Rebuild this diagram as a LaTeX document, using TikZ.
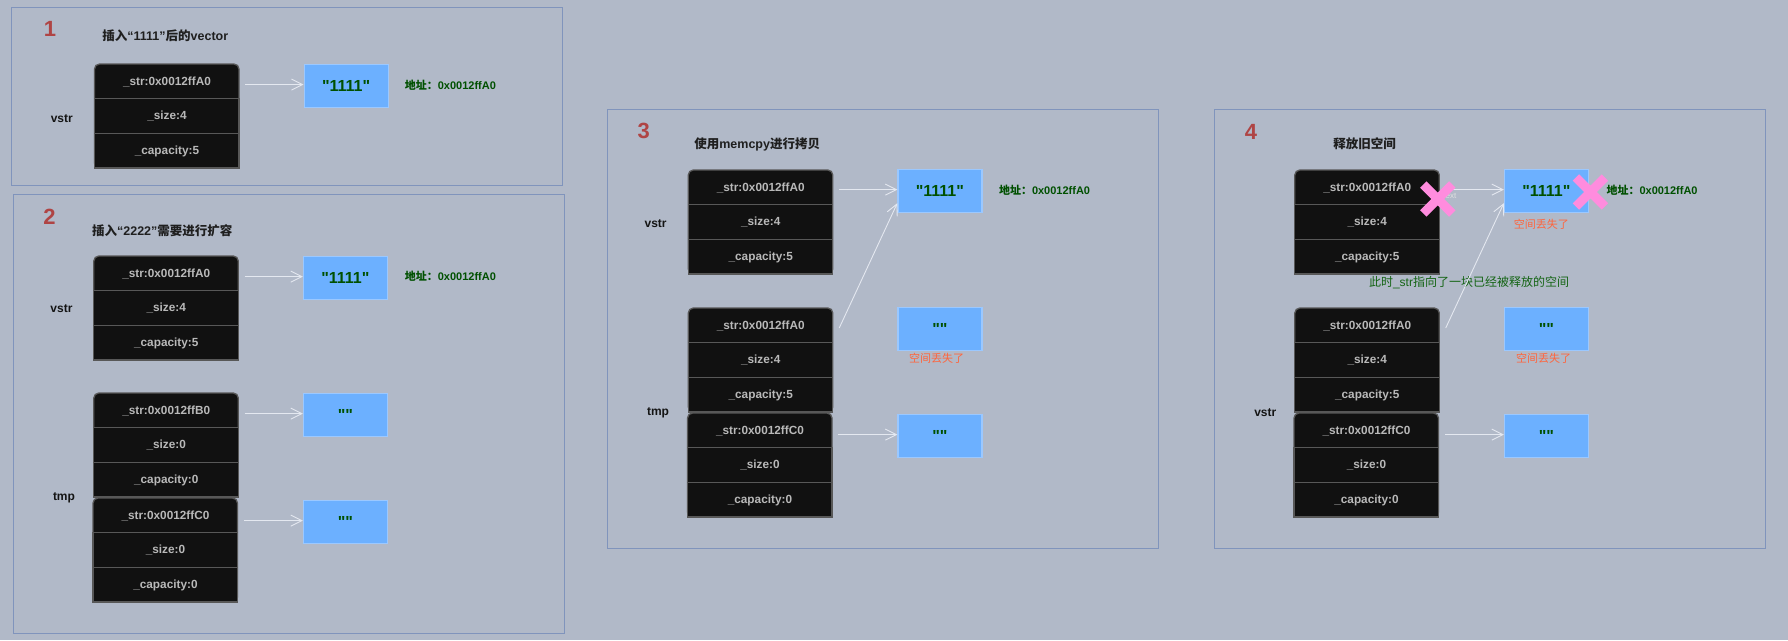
\documentclass[tikz,border=0pt]{standalone}
\usepackage{fontspec}
\setmainfont{Liberation Sans}
\newfontfamily\cjk{Noto Sans CJK SC}
\usetikzlibrary{arrows.meta}
\definecolor{bg}{RGB}{177,185,200}
\definecolor{framecol}{RGB}{128,148,188}
\definecolor{cellfill}{RGB}{17,17,17}
\definecolor{cellline}{RGB}{88,88,88}
\definecolor{celltext}{RGB}{185,185,185}
\definecolor{boxfill}{RGB}{108,176,255}
\definecolor{boxline}{RGB}{155,200,255}
\definecolor{dgreen}{RGB}{0,80,0}
\definecolor{numred}{RGB}{175,68,68}
\definecolor{lostcol}{RGB}{255,100,60}
\definecolor{notegreen}{RGB}{20,100,20}
\definecolor{arrowcol}{RGB}{228,232,240}
\definecolor{xpink}{RGB}{255,140,222}
\newcommand\zh[1]{{\cjk #1}}
\newcommand\dq{\XeTeXglyph\XeTeXcharglyph"22\relax}
\newcommand\memstruct[6]{%
  \draw[cellshape, rounded corners=5pt] (#2,#3) rectangle ++(144.5,104.1);
  \draw[cellshape] (#2,{#3+34.7}) rectangle ++(144.5,69.4);
  \draw[cellshape] (#2,{#3+69.4}) -- ++(144.5,0);
  \node[cell] (#1-1) at (#2,#3) {#4};
  \node[cell] (#1-2) at (#2,{#3+34.7}) {#5};
  \node[cell] (#1-3) at (#2,{#3+69.4}) {#6};
}
\tikzset{
  cellshape/.style={draw=cellline, fill=cellfill, line width=1.3pt},
  cell/.style={anchor=north west, minimum width=144.5pt, minimum height=34.7pt, inner sep=0pt,
    text=celltext, font=\bfseries\fontsize{11.8}{14}\selectfont},
  membox/.style={anchor=north west, draw=boxline, fill=boxfill, line width=1.2pt,
    minimum width=84pt, minimum height=43pt, inner sep=0pt, text=dgreen,
    font=\bfseries\fontsize{16}{16}\selectfont},
  ptr/.style={draw=arrowcol, line width=0.9pt, -{Straight Barb[length=11pt,width=11pt]}},
  frame/.style={draw=framecol, line width=1pt},
  stepnum/.style={text=numred, font=\bfseries\fontsize{22}{22}\selectfont, inner sep=0pt},
  title/.style={text=black!88, font=\bfseries\fontsize{12.5}{14}\selectfont, inner sep=0pt},
  varlabel/.style={text=black!92, font=\bfseries\fontsize{12}{14}\selectfont, inner sep=0pt},
  addr/.style={anchor=west, text=dgreen, font=\bfseries\fontsize{11}{13}\selectfont, inner sep=0pt},
  lost/.style={text=lostcol, font=\fontsize{11}{13}\selectfont, inner sep=0pt},
  note/.style={text=notegreen, font=\fontsize{12}{14}\selectfont, inner sep=0pt},
  xmark/.style={draw=xpink, line width=9pt},
}
\begin{document}
\begin{tikzpicture}[x=1pt,y=-1pt]
\useasboundingbox (0,0) rectangle (1788,640);
\fill[bg] (0,0) rectangle (1788,640);

% ---------- frames
\draw[frame] (11.6,7.3) rectangle (562.7,185);
\draw[frame] (13.4,194) rectangle (564.5,633);
\draw[frame] (607.3,109) rectangle (1158.7,548);
\draw[frame] (1214.4,109) rectangle (1765.5,548);

% ---------- panel 1
\node[stepnum] (n1) at (50,29) {1};
\node[title] (t1) at (165.3,36) {\zh{插入}“1111”\zh{后的}vector};
\memstruct{sa}{94.5}{64}{\_str:0x0012ffA0}{\_size:4}{\_capacity:5}
\node[varlabel] (la) at (61.8,119) {vstr};
\node[membox] (ba) at (303.5,64) {\dq1111\dq};
\node[addr] (aa) at (404.6,85) {\zh{地址：}0x0012ffA0};
\coordinate (ea) at ([yshift=1.5pt]ba.west);
\draw[ptr] ([xshift=6pt]sa-1.east |- ea) -- (ea);

% ---------- panel 2
\node[stepnum] (n2) at (49.5,217) {2};
\node[title] (t2) at (162.3,231) {\zh{插入}“2222”\zh{需要进行扩容}};
\memstruct{sb}{93.8}{256}{\_str:0x0012ffA0}{\_size:4}{\_capacity:5}
\memstruct{sc}{93.8}{393}{\_str:0x0012ffB0}{\_size:0}{\_capacity:0}
\memstruct{sd}{93}{498}{\_str:0x0012ffC0}{\_size:0}{\_capacity:0}
\node[varlabel] (lb) at (61.5,309) {vstr};
\node[varlabel] (lc) at (64,498) {tmp};
\node[membox] (bb) at (302.8,256) {\dq1111\dq};
\node[membox] (bc) at (302.8,393) {\vphantom{1}\dq\dq};
\node[membox] (bd) at (302.8,500) {\vphantom{1}\dq\dq};
\node[addr] (ab) at (404.6,276) {\zh{地址：}0x0012ffA0};
\coordinate (eb) at ([yshift=1.5pt]bb.west);
\draw[ptr] ([xshift=6pt]sb-1.east |- eb) -- (eb);
\coordinate (ec) at ([yshift=1.5pt]bc.west);
\draw[ptr] ([xshift=6pt]sc-1.east |- ec) -- (ec);
\coordinate (ed) at ([yshift=1.5pt]bd.west);
\draw[ptr] ([xshift=6pt]sd-1.east |- ed) -- (ed);

% ---------- panel 3
\node[stepnum] (n3) at (643.7,131) {3};
\node[title] (t3) at (757.2,144) {\zh{使用}memcpy\zh{进行拷贝}};
\memstruct{se}{688.3}{170}{\_str:0x0012ffA0}{\_size:4}{\_capacity:5}
\memstruct{sf}{688.3}{308}{\_str:0x0012ffA0}{\_size:4}{\_capacity:5}
\memstruct{sg}{687.5}{413}{\_str:0x0012ffC0}{\_size:0}{\_capacity:0}
\node[varlabel] (le) at (655.6,224) {vstr};
\node[varlabel] (lf) at (658,413) {tmp};
\node[membox] (be) at (897.3,169) {\dq1111\dq};
\node[membox] (bf) at (897.3,307) {\vphantom{1}\dq\dq};
\node[membox] (bg) at (897.3,414) {\vphantom{1}\dq\dq};
\node[addr] (ae) at (998.8,190) {\zh{地址：}0x0012ffA0};
\node[lost] (lo1) at (936.6,358) {\zh{空间丢失了}};
\coordinate (ee) at ([yshift=1.5pt]be.west);
\draw[ptr] ([xshift=6pt]se-1.east |- ee) -- (ee);
\draw[ptr] ([xshift=6pt,yshift=-2.5pt]sf-1.east) -- ([yshift=10pt]be.south west);
\coordinate (eg) at ([yshift=1.5pt]bg.west);
\draw[ptr] ([xshift=6pt]sg-1.east |- eg) -- (eg);

% ---------- panel 4
\node[stepnum] (n4) at (1251,132) {4};
\node[title] (t4) at (1364.5,144) {\zh{释放旧空间}};
\memstruct{sh}{1294.8}{170}{\_str:0x0012ffA0}{\_size:4}{\_capacity:5}
\memstruct{si}{1294.8}{308}{\_str:0x0012ffA0}{\_size:4}{\_capacity:5}
\memstruct{sj}{1294}{413}{\_str:0x0012ffC0}{\_size:0}{\_capacity:0}
\node[varlabel] (lj) at (1265.3,413) {vstr};
\node[membox] (bh) at (1503.8,169) {\dq1111\dq};
\node[membox] (bi) at (1503.8,307) {\vphantom{1}\dq\dq};
\node[membox] (bj) at (1503.8,414) {\vphantom{1}\dq\dq};
\node[lost] (lo2) at (1541.4,224) {\zh{空间丢失了}};
\node[lost] (lo3) at (1543.5,358) {\zh{空间丢失了}};
\node[note] (nt) at (1469,283) {\zh{此时}\_str\zh{指向了一块已经被释放的空间}};
\coordinate (eh) at ([yshift=1.5pt]bh.west);
\draw[ptr] ([xshift=6pt]sh-1.east |- eh) -- (eh);
\draw[ptr] ([xshift=6pt,yshift=-2.5pt]si-1.east) -- ([yshift=10pt]bh.south west);
\coordinate (ej) at ([yshift=1.5pt]bj.west);
\draw[ptr] ([xshift=6pt]sj-1.east |- ej) -- (ej);
\node[text=black!12, font=\fontsize{8}{9}\selectfont, inner sep=0pt] (tx) at (1449,195.5) {Text};
\draw[xmark] (1423.3,184.5) -- (1452.3,213.5) (1423.3,213.5) -- (1452.3,184.5);
\draw[xmark] (1575.9,177.5) -- (1604.9,206.5) (1575.9,206.5) -- (1604.9,177.5);
\node[addr] (ah) at (1606.3,190) {\zh{地址：}0x0012ffA0};
\end{tikzpicture}
\end{document}
